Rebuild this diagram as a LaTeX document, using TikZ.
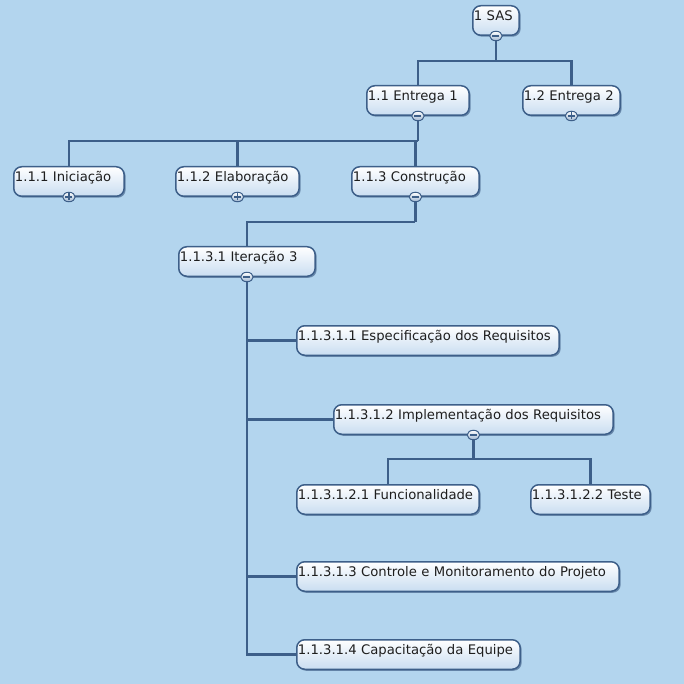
\documentclass[tikz,border=0pt]{standalone}
\usepackage{fontspec}
\setmainfont{DejaVu Sans}
\usetikzlibrary{shapes.geometric,shadows}
\definecolor{wbsbg}{HTML}{B3D5EE}
\definecolor{wbsline}{HTML}{3D5F89}
\definecolor{wbsfill}{HTML}{C9DDF1}
\definecolor{wbsshade}{HTML}{4A6A90}
\definecolor{wbstext}{HTML}{1E1E1E}
\tikzset{
    wbs/.style={draw=wbsline, line width=1.5pt, rounded corners=8pt,
        top color=white, bottom color=wbsfill, anchor=north west,
        text width=#1, align=left, inner xsep=1.2pt, inner ysep=2pt,
        text height=13pt, text depth=12.5pt, text=wbstext,
        font=\fontsize{13.2}{15}\selectfont,
        drop shadow={shadow xshift=1.5pt, shadow yshift=-1.5pt,
            fill=wbsshade, opacity=.7}},
    tog/.style={ellipse, draw=wbsline, line width=1pt, top color=white,
        bottom color=wbsfill!70!wbsline, minimum width=12.5pt,
        minimum height=9.5pt, inner sep=0pt},
    togminus/.style={tog, path picture={
        \draw[wbsline, line width=1.4pt]
            ([xshift=-3.5pt]path picture bounding box.center) --
            ([xshift=3.5pt]path picture bounding box.center);}},
    togplus/.style={tog, path picture={
        \draw[wbsline, line width=1.2pt]
            ([xshift=-3.5pt]path picture bounding box.center) --
            ([xshift=3.5pt]path picture bounding box.center)
            ([yshift=-3.5pt]path picture bounding box.center) --
            ([yshift=3.5pt]path picture bounding box.center);}},
    conn/.style={draw=wbsline, line width=2.2pt}
}
\begin{document}
\begin{tikzpicture}[x=1pt,y=-1pt]
\fill[wbsbg] (0,0) rectangle (684,684);
\useasboundingbox (0,0) rectangle (684,684);

% work packages
\node[wbs=44pt] (sas) at (472,5) {1 SAS};
\node[wbs=100pt] (e1) at (366,85) {1.1 Entrega 1};
\node[wbs=95pt] (e2) at (522,85) {1.2 Entrega 2};
\node[wbs=108pt] (ini) at (13,166) {1.1.1 Iniciação};
\node[wbs=121pt] (ela) at (175,166) {1.1.2 Elaboração};
\node[wbs=125pt] (con) at (351,166) {1.1.3 Construção};
\node[wbs=134pt] (it3) at (178,246) {1.1.3.1 Iteração 3};
\node[wbs=260pt] (esp) at (296,325) {1.1.3.1.1 Especificação dos Requisitos};
\node[wbs=277pt] (imp) at (333,404) {1.1.3.1.2 Implementação dos Requisitos};
\node[wbs=180pt] (fun) at (296,484) {1.1.3.1.2.1 Funcionalidade};
\node[wbs=117pt] (tes) at (530,484) {1.1.3.1.2.2 Teste};
\node[wbs=320pt] (ctl) at (296,561) {1.1.3.1.3 Controle e Monitoramento do Projeto};
\node[wbs=221pt] (cap) at (296,639) {1.1.3.1.4 Capacitação da Equipe};

% expand / collapse buttons
\node[togminus] (tsas) at (sas.south) {};
\node[togminus] (te1) at (e1.south) {};
\node[togplus] (te2) at (e2.south) {};
\node[togplus] (tini) at (ini.south) {};
\node[togplus] (tela) at (ela.south) {};
\node[togminus] (tcon) at (con.south) {};
\node[togminus] (tit3) at (it3.south) {};
\node[togminus] (timp) at (imp.south) {};

% connectors
\draw[conn] (tsas.south) -- ([yshift=-25pt]sas.south) coordinate (jsas);
\draw[conn] (e1.north) |- (jsas) -| (e2.north);
\draw[conn] (te1.south) -- ([yshift=-25pt]e1.south) coordinate (je1);
\draw[conn] (ini.north) |- (je1) -| (con.north);
\draw[conn] (ela.north) -- (ela.north |- je1);
\draw[conn] (tcon.south) -- ([yshift=-25pt]con.south) coordinate (jcon);
\draw[conn] (it3.north) |- (jcon);
\draw[conn] (tit3.south) |- (cap.west);
\draw[conn] (tit3.south |- esp.west) -- (esp.west);
\draw[conn] (tit3.south |- imp.west) -- (imp.west);
\draw[conn] (tit3.south |- ctl.west) -- (ctl.west);
\draw[conn] (timp.south) -- ([yshift=-24pt]imp.south) coordinate (jimp);
\draw[conn] (fun.north) |- (jimp) -| (tes.north);
\end{tikzpicture}
\end{document}
